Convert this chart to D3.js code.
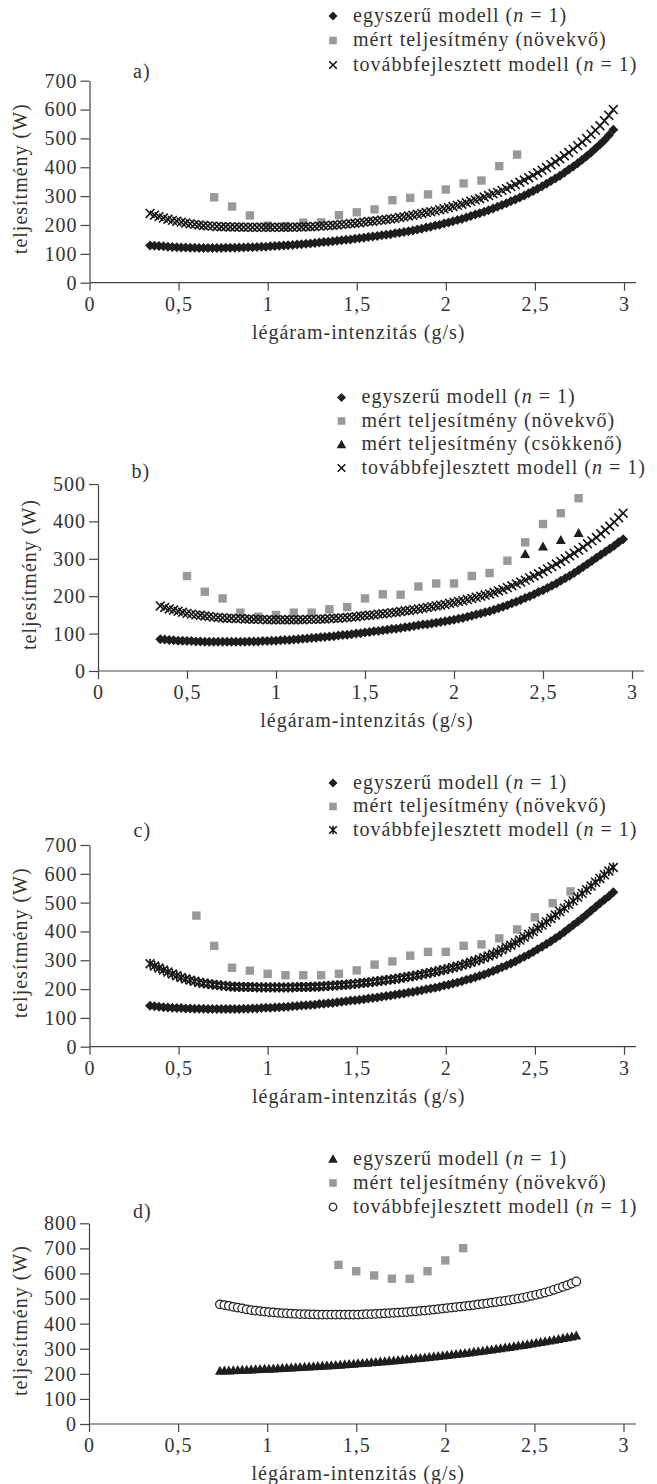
<!DOCTYPE html>
<html>
<head>
<meta charset="utf-8">
<style>
  body { margin: 0; background: #fff; }
  svg { display: block; background: #fff; }
</style>
<script src="https://d3js.org/d3.v7.min.js"></script>
</head>
<body>
<svg width="657" height="1484"></svg>
<script>
// ---- shared axis data ----
var xTickVals = [0, 0.5, 1, 1.5, 2, 2.5, 3];
var xTickLabels = ["0", "0,5", "1", "1,5", "2", "2,5", "3"];
var yTicksA = [0, 100, 200, 300, 400, 500, 600, 700];
var yTicksB = [0, 100, 200, 300, 400, 500];
var yTicksC = [0, 100, 200, 300, 400, 500, 600, 700];
var yTicksD = [0, 100, 200, 300, 400, 500, 600, 700, 800];
var xTitle = "légáram-intenzitás (g/s)";
var yTitle = "teljesítmény (W)";
var modelStep = 0.025;

var lblSimple = "egyszerű modell (n = 1)";
var lblUp = "mért teljesítmény (növekvő)";
var lblDown = "mért teljesítmény (csökkenő)";
var lblImproved = "továbbfejlesztett modell (n = 1)";

// ---- panel a ----
var aStart = 0.34;
var aSimple = [129,128,127,126,125,124,123,122,122,121,
  121,120,120,120,120,120,120,121,121,121,
  122,122,123,123,124,125,125,126,127,128,
  129,130,131,132,133,135,136,138,139,141,
  142,144,145,147,149,150,152,154,156,158,
  160,162,164,166,168,171,173,176,178,181,
  184,187,191,194,198,201,205,209,213,217,
  221,226,231,236,241,246,251,257,263,269,
  275,282,288,295,302,310,318,326,334,343,
  352,361,371,381,392,403,414,426,438,451,
  465,479,494,511,530];
var aImproved = [240,234,229,224,220,216,213,210,207,204,
  202,200,198,197,196,195,194,194,193,193,
  193,192,192,192,192,192,192,192,192,192,
  192,192,192,193,193,194,194,195,196,197,
  198,199,200,202,203,205,206,208,210,212,
  213,215,217,219,221,223,226,228,231,234,
  237,240,243,246,249,253,256,260,264,268,
  272,277,282,287,291,297,302,308,313,320,
  326,333,340,348,356,364,372,381,390,399,
  409,419,429,440,451,463,475,487,500,514,
  528,544,561,580,600];
var aMeasuredX = [0.7,0.8,0.9,1.0,1.1,1.2,1.3,1.4,1.5,1.6,1.7,1.8,1.9,2.0,2.1,2.2,2.3,2.4];
var aMeasured = [296,264,233,198,196,208,209,234,244,254,286,294,306,323,344,354,404,444];

// ---- panel b ----
var bStart = 0.35;
var bSimple = [85,84,83,82,81,81,80,80,79,79,
  78,78,78,78,78,78,78,78,78,78,
  79,79,79,80,80,81,81,82,83,83,
  84,85,86,87,88,89,90,91,92,93,
  95,96,97,98,100,101,103,104,106,107,
  109,110,112,113,115,117,118,120,122,124,
  125,127,129,131,133,135,137,140,142,145,
  148,151,154,157,160,164,168,172,176,181,
  185,190,195,200,205,211,216,222,228,234,
  241,248,255,262,270,278,286,294,303,311,
  319,327,335,344,352];
var bImproved = [174,170,166,163,160,157,154,152,150,149,
  147,146,144,143,142,141,141,140,140,139,
  139,138,138,138,137,137,137,137,137,137,
  137,137,137,138,138,138,139,139,140,141,
  141,142,143,144,145,147,148,149,150,152,
  153,154,156,157,159,161,162,164,166,168,
  170,172,174,176,178,181,183,186,188,191,
  194,197,200,203,206,210,214,218,223,228,
  233,238,243,249,254,260,266,273,279,286,
  293,300,308,315,323,331,340,348,357,367,
  377,387,398,410,422];
var bMeasuredX = [0.5,0.6,0.7,0.8,0.9,1.0,1.1,1.2,1.3,1.4,1.5,1.6,1.7,1.8,1.9,2.0,2.1,2.2,2.3,2.4,2.5,2.6,2.7];
var bMeasured = [254,212,194,156,145,150,156,156,165,171,194,205,204,226,234,234,254,262,295,344,393,422,462];
var bDownX = [2.4,2.5,2.6,2.7];
var bDown = [313,333,350,369];

// ---- panel c ----
var cStart = 0.34;
var cSimple = [142,140,139,137,136,135,134,134,133,133,
  132,132,132,131,131,131,131,131,131,131,
  131,132,132,133,133,134,135,135,136,137,
  138,139,140,141,143,144,145,146,148,149,
  151,152,154,156,158,160,161,163,165,167,
  169,171,173,176,178,180,183,185,188,190,
  193,196,199,202,205,208,212,215,219,223,
  227,232,236,241,246,251,257,263,269,276,
  282,289,296,304,312,320,329,338,347,356,
  366,376,387,398,410,422,434,446,459,472,
  485,498,510,522,536];
var cImproved = [288,280,273,266,259,252,246,240,235,231,
  227,223,220,218,216,214,212,211,209,208,
  208,207,207,207,206,206,206,206,206,206,
  206,206,206,207,207,207,208,208,209,210,
  211,212,213,214,215,217,218,220,222,223,
  225,227,229,231,233,235,238,240,243,245,
  248,251,254,257,260,264,267,271,275,279,
  283,288,293,298,303,309,315,321,328,336,
  344,352,361,370,380,390,400,411,422,433,
  445,457,469,481,494,506,519,532,545,558,
  571,584,597,610,622];
var cMeasuredX = [0.6,0.7,0.8,0.9,1.0,1.1,1.2,1.3,1.4,1.5,1.6,1.7,1.8,1.9,2.0,2.1,2.2,2.3,2.4,2.5,2.6,2.7];
var cMeasured = [455,350,274,264,253,248,248,248,253,265,285,296,316,329,329,350,355,376,407,449,498,539];

// ---- panel d ----
var dStart = 0.735;
var dSimple = [212,213,213,214,215,216,216,217,218,219,
  220,220,221,222,223,224,225,226,227,228,
  229,230,231,232,233,234,235,236,238,239,
  240,242,243,244,246,247,249,250,252,253,
  255,257,258,260,262,263,265,267,269,271,
  273,275,277,279,281,283,285,288,290,292,
  295,297,300,302,305,307,310,313,315,318,
  321,324,327,330,333,336,339,343,346,349,
  353];
var dImproved = [477,474,471,467,464,461,457,454,452,450,
  448,446,445,443,442,441,440,439,438,438,
  437,437,436,436,436,436,436,436,436,436,
  436,436,437,438,438,439,440,441,442,443,
  444,445,446,448,449,451,452,454,456,458,
  460,462,464,466,468,470,472,474,477,479,
  481,484,486,489,491,494,497,500,503,507,
  511,515,519,524,529,535,541,547,553,560,
  568];
var dMeasuredX = [1.4,1.5,1.6,1.7,1.8,1.9,2.0,2.1];
var dMeasured = [634,609,592,579,579,609,652,701];

// ---- marker shapes ----
var shapes = {
  diamond: function (r) { return "M0," + (-r) + "L" + r + ",0L0," + r + "L" + (-r) + ",0Z"; },
  square: function (r) { return "M" + (-r) + "," + (-r) + "H" + r + "V" + r + "H" + (-r) + "Z"; },
  cross: function (r) { return "M" + (-r) + "," + (-r) + "L" + r + "," + r + "M" + (-r) + "," + r + "L" + r + "," + (-r); },
  star: function (r) { return shapes.cross(r) + "M0," + (-r * 1.15) + "V" + (r * 1.15); },
  triangle: function (r) { return "M0," + (-r) + "L" + r + "," + (r * 0.8) + "L" + (-r) + "," + (r * 0.8) + "Z"; },
  circle: function (r) { return "M" + r + ",0A" + r + "," + r + " 0 1,1 " + (-r) + ",0A" + r + "," + r + " 0 1,1 " + r + ",0Z"; }
};
var styles = {
  diamond: { r: 5, lr: 4.5, fill: "#1e1e1e", stroke: "none", sw: 0 },
  square: { r: 4.2, lr: 3.8, fill: "#999", stroke: "none", sw: 0 },
  cross: { r: 4.4, lr: 3.8, fill: "none", stroke: "#161616", sw: 1.6 },
  star: { r: 4.4, lr: 3.8, fill: "none", stroke: "#161616", sw: 1.6 },
  triangle: { r: 5, lr: 4.8, fill: "#1e1e1e", stroke: "none", sw: 0 },
  circle: { r: 4.3, lr: 3.8, fill: "#fff", stroke: "#1e1e1e", sw: 1.2 }
};

function modelPoints(start, vals) {
  return vals.map(function (v, i) { return { x: start + i * modelStep, y: v }; });
}
function listPoints(xs, vals) {
  return vals.map(function (v, i) { return { x: xs[i], y: v }; });
}

var panels = [
  { x0: 89.5, x3: 624, axisEnd: 636, yBottom: 282.7, yTop: 80.7, yTicks: yTicksA,
    label: "a)", labelX: 133, labelY: 78, yTitleX: 27,
    legendX: 333, legendTextX: 353, legendRows: [16, 40.5, 65],
    legend: [["diamond", lblSimple], ["square", lblUp], ["cross", lblImproved]],
    series: [["square", listPoints(aMeasuredX, aMeasured)],
             ["diamond", modelPoints(aStart, aSimple)],
             ["cross", modelPoints(aStart, aImproved)]] },
  { x0: 98, x3: 632, axisEnd: 644, yBottom: 671, yTop: 484, yTicks: yTicksB,
    label: "b)", labelX: 131.5, labelY: 478, yTitleX: 36,
    legendX: 341.5, legendTextX: 361.5, legendRows: [397.5, 421, 444.5, 468],
    legend: [["diamond", lblSimple], ["square", lblUp], ["triangle", lblDown], ["cross", lblImproved]],
    series: [["square", listPoints(bMeasuredX, bMeasured)],
             ["triangle", listPoints(bDownX, bDown)],
             ["diamond", modelPoints(bStart, bSimple)],
             ["cross", modelPoints(bStart, bImproved)]] },
  { x0: 89.5, x3: 624, axisEnd: 636, yBottom: 1046.7, yTop: 845, yTicks: yTicksC,
    label: "c)", labelX: 133.5, labelY: 837, yTitleX: 27,
    legendX: 333, legendTextX: 353, legendRows: [783, 806.5, 830],
    legend: [["diamond", lblSimple], ["square", lblUp], ["star", lblImproved]],
    series: [["square", listPoints(cMeasuredX, cMeasured)],
             ["diamond", modelPoints(cStart, cSimple)],
             ["star", modelPoints(cStart, cImproved)]] },
  { x0: 89, x3: 623.5, axisEnd: 636, yBottom: 1424, yTop: 1223.3, yTicks: yTicksD,
    label: "d)", labelX: 133, labelY: 1218, yTitleX: 27,
    legendX: 333, legendTextX: 353, legendRows: [1159, 1183, 1207],
    legend: [["triangle", lblSimple], ["square", lblUp], ["circle", lblImproved]],
    series: [["square", listPoints(dMeasuredX, dMeasured)],
             ["triangle", modelPoints(dStart, dSimple)],
             ["circle", modelPoints(dStart, dImproved)]] }
];

var svg = d3.select("svg");

function addLabel(sel, label) {
  var m = label.match(/^(.*\()n( = 1\))$/);
  if (m) {
    sel.append("tspan").text(m[1]);
    sel.append("tspan").style("font-style", "italic").text("n");
    sel.append("tspan").text(m[2]);
  } else {
    sel.text(label);
  }
}

panels.forEach(function (p) {
  var x = d3.scaleLinear().domain([0, 3]).range([p.x0, p.x3]);
  var yMax = p.yTicks[p.yTicks.length - 1];
  var y = d3.scaleLinear().domain([0, yMax]).range([p.yBottom, p.yTop]);
  var g = svg.append("g");

  // x axis
  var xa = g.append("g")
    .attr("transform", "translate(0," + p.yBottom + ")")
    .call(d3.axisBottom(x).tickValues(xTickVals)
      .tickFormat(function (d, i) { return xTickLabels[i]; })
      .tickSize(8).tickSizeOuter(0).tickPadding(6));
  xa.select(".domain").remove();
  xa.append("line").attr("x1", p.x0).attr("x2", p.axisEnd).attr("y1", 0).attr("y2", 0);

  // y axis
  g.append("g")
    .attr("transform", "translate(" + p.x0 + ",0)")
    .call(d3.axisLeft(y).tickValues(p.yTicks).tickSize(9).tickSizeOuter(0).tickPadding(3));

  g.selectAll("line, path.domain").attr("stroke", "#444").attr("stroke-width", 1.2);

  // titles
  g.append("text")
    .attr("x", (p.x0 + p.x3) / 2 + 2).attr("y", p.yBottom + 56)
    .attr("text-anchor", "middle").text(xTitle);
  g.append("text")
    .attr("transform", "translate(" + p.yTitleX + "," + ((p.yBottom + p.yTop) / 2 - 3) + ") rotate(-90)")
    .attr("text-anchor", "middle").text(yTitle);
  g.append("text").attr("x", p.labelX).attr("y", p.labelY).text(p.label);

  // series
  p.series.forEach(function (s) {
    var st = styles[s[0]];
    g.append("g").selectAll("path").data(s[1]).enter().append("path")
      .attr("transform", function (d) { return "translate(" + x(d.x) + "," + y(d.y) + ")"; })
      .attr("d", shapes[s[0]](st.r))
      .attr("fill", st.fill).attr("stroke", st.stroke).attr("stroke-width", st.sw);
  });

  // legend
  var lg = g.append("g");
  p.legend.forEach(function (e, i) {
    var st = styles[e[0]];
    var cy = p.legendRows[i];
    lg.append("path")
      .attr("transform", "translate(" + p.legendX + "," + cy + ")")
      .attr("d", shapes[e[0]](st.lr))
      .attr("fill", st.fill).attr("stroke", st.stroke).attr("stroke-width", st.sw);
    var t = lg.append("text").attr("x", p.legendTextX).attr("y", cy + 5.5);
    addLabel(t, e[1]);
  });
});

// font for every text, set inline
svg.selectAll("text")
  .style("font-family", "'Liberation Serif', serif")
  .style("font-size", "20px")
  .style("letter-spacing", "1px")
  .style("fill", "#333");
</script>
</body>
</html>
